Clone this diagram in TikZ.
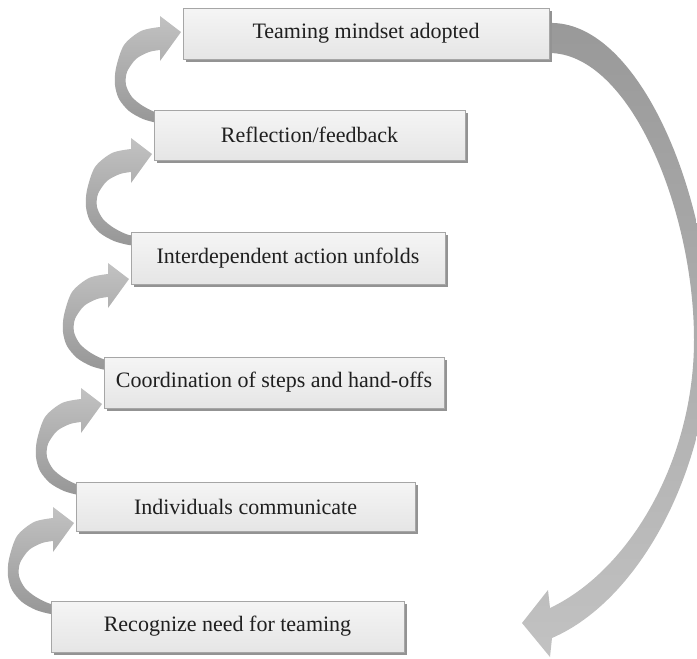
\documentclass[tikz,border=0pt]{standalone}
\usepackage{fontspec}
\setmainfont{Liberation Serif}
\usetikzlibrary{shadows,calc}
\tikzset{
  stepbox/.style={draw=gray!70, line width=0.8pt, top color=gray!8, bottom color=gray!20,
    drop shadow={shadow xshift=3pt, shadow yshift=-3pt, fill=gray!85, opacity=1},
    anchor=north west, inner sep=0pt, outer sep=0pt, text=black!88,
    font=\fontsize{22}{26}\selectfont},
  ghost/.style={anchor=north west, inner sep=0pt, outer sep=0pt},
  ribbon/.style={top color=gray!48, bottom color=gray!82},
  bigribbon/.style={top color=gray!80, bottom color=gray!48}
}
\newcommand\looparrow[2]{%
  \begin{scope}[shift={($(#1.west |- #2.north west)+(-2,-78)$)}]
    \shade[ribbon] (0,0) -- (-21,-16) -- plot[smooth] coordinates {(-21,-5) (-40,-1) (-57,13) (-65,36) (-66,53) (-62,67) (-52,79) (-38,87) (-23,91) (-8,92)}
      -- plot[smooth] coordinates {(-8,81) (-23,81) (-38,74) (-49,65) (-55,53) (-54,40) (-45,27) (-32,20) (-21,18)}
      -- (-21,29) -- cycle;
  \end{scope}}
\begin{document}
\begin{tikzpicture}[x=1pt,y=-1pt]
\useasboundingbox (0,0) rectangle (697,659);
\clip (0,0) rectangle (697,659);
% placeholders naming the box frames
\path node[ghost, minimum width=366pt, minimum height=51pt] (b6) at (183,8) {};
\path node[ghost, minimum width=311pt, minimum height=50pt] (b5) at (154,110) {};
\path node[ghost, minimum width=314pt, minimum height=52pt] (b4) at (131,232) {};
\path node[ghost, minimum width=340pt, minimum height=51pt] (b3) at (104,357) {};
\path node[ghost, minimum width=339pt, minimum height=49pt] (b2) at (76,482) {};
\path node[ghost, minimum width=353pt, minimum height=51pt] (b1) at (51,601) {};
% loop arrows
\looparrow{b2}{b1}
\looparrow{b3}{b2}
\looparrow{b4}{b3}
\looparrow{b5}{b4}
\looparrow{b6}{b5}
% big return arrow
\shade[bigribbon] (549,23) .. controls (640,20) and (712,200) .. (710,340)
  .. controls (708,470) and (640,600) .. (552,638)
  -- (550,657) -- (522,623) -- (548,590) -- (550,608)
  .. controls (630,570) and (694,460) .. (694,340)
  .. controls (694,210) and (630,53) .. (549,53) -- cycle;
% boxes
\node[stepbox, minimum width=366pt, minimum height=51pt] (t6) at (183,8) {Teaming mindset adopted};
\node[stepbox, minimum width=311pt, minimum height=50pt] (t5) at (154,110) {Reflection/feedback};
\node[stepbox, minimum width=314pt, minimum height=52pt] (t4) at (131,232) {Interdependent action unfolds};
\node[stepbox, minimum width=340pt, minimum height=51pt] (t3) at (104,357) {Coordination of steps and hand-offs};
\node[stepbox, minimum width=339pt, minimum height=49pt] (t2) at (76,482) {Individuals communicate};
\node[stepbox, minimum width=353pt, minimum height=51pt] (t1) at (51,601) {Recognize need for teaming};
\end{tikzpicture}
\end{document}
